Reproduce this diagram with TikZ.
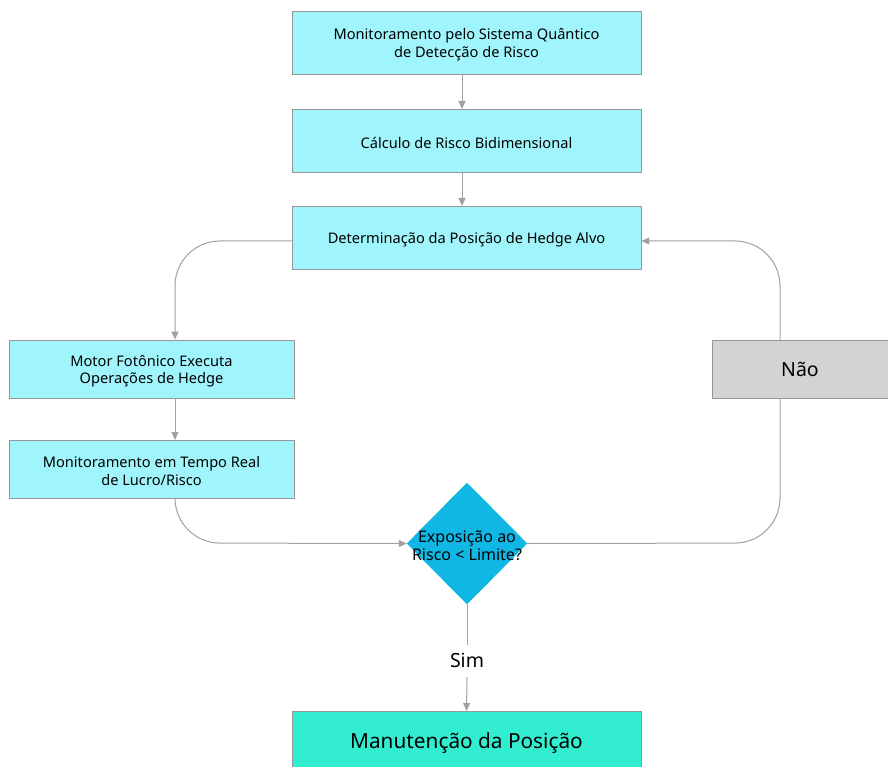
\documentclass[tikz,border=0pt]{standalone}
\usepackage{fontspec}
\setmainfont{Noto Sans}
\usetikzlibrary{arrows.meta,shapes.geometric}
\definecolor{boxcyan}{RGB}{160,245,252}
\definecolor{boxline}{RGB}{150,150,150}
\definecolor{linkgray}{RGB}{160,160,160}
\definecolor{decfill}{RGB}{16,183,228}
\definecolor{nofill}{RGB}{211,211,211}
\definecolor{endfill}{RGB}{51,237,208}
\tikzset{
  stepbox/.style={draw=boxline, line width=0.9pt, fill=boxcyan, rectangle,
    inner sep=0pt},
  steptext/.style={align=center, font=\fontsize{14.6}{17.5}\selectfont, yshift=-2pt},
  link/.style={draw=linkgray, line width=1pt, rounded corners=45pt},
  tip/.style={-{Triangle[length=8pt,width=7pt]}},
}
\begin{document}
\begin{tikzpicture}[x=1pt,y=-1pt]
\useasboundingbox (0,0) rectangle (888,767);
% process boxes
\node[stepbox, minimum width=349pt, minimum height=63pt] (mon) at (466.5,42.5) {};
\node[steptext] at (mon.center) {Monitoramento pelo Sistema Quântico\\de Detecção de Risco};
\node[stepbox, minimum width=349pt, minimum height=63pt] (calc) at (466.5,140.5) {};
\node[steptext] at (calc.center) {Cálculo de Risco Bidimensional};
\node[stepbox, minimum width=349pt, minimum height=63pt] (alvo) at (466.5,237.5) {};
\node[steptext] at (alvo.center) {Determinação da Posição de Hedge Alvo};
\node[stepbox, minimum width=285pt, minimum height=58pt] (motor) at (151.5,369) {};
\node[steptext] at (motor.center) {Motor Fotônico Executa\\Operações de Hedge};
\node[stepbox, minimum width=285pt, minimum height=58pt] (real) at (151.5,469) {};
\node[steptext] at (real.center) {Monitoramento em Tempo Real\\de Lucro/Risco};
% decision
\node[diamond, fill=decfill, draw=decfill, minimum width=120pt, minimum height=121pt,
  inner sep=0pt] (dec) at (467,543.5) {};
\node[align=center, font=\fontsize{16}{18}\selectfont, yshift=-2pt] at (dec.center)
  {Exposição ao\\Risco < Limite?};
% "Não" box
\node[draw=boxline, line width=0.9pt, fill=nofill, minimum width=180pt, minimum height=58pt,
  inner sep=0pt, anchor=west] (nao) at (712,369) {};
\node[font=\fontsize{19.5}{22}\selectfont] at (800,369) {Não};
% final box
\node[draw=boxline, line width=0.9pt, fill=endfill, minimum width=349pt, minimum height=60pt,
  inner sep=0pt, anchor=north] (fim) at (466.5,711) {};
\node[font=\fontsize{20.8}{24}\selectfont] at (466.5,743) {Manutenção da Posição};
% connectors
\coordinate (c1) at (175,241);
\coordinate (c2) at (175,543);
\coordinate (c3) at (780,543);
\coordinate (c4) at (780,241);
\draw[link, tip] (462,74) -- (462,109);
\draw[link, tip] (462,172) -- (462,206);
\draw[link, tip] (alvo.west |- c1) -- (c1) -- (motor.north -| c1);
\draw[link, tip] (175,398) -- (175,440);
\draw[link, tip] (real.south -| c2) -- (c2) -- (dec.west);
\draw[link] (dec.east) -- (c3) -- (nao.south -| c3);
\draw[link, tip] (nao.north -| c4) -- (c4) -- (alvo.east |- c4);
\draw[link] (dec.south) -- (467,645);
\node[font=\fontsize{19.5}{22}\selectfont] (sim) at (467,660) {Sim};
\draw[link, tip] (467,677) -- (fim.north);
\end{tikzpicture}
\end{document}
